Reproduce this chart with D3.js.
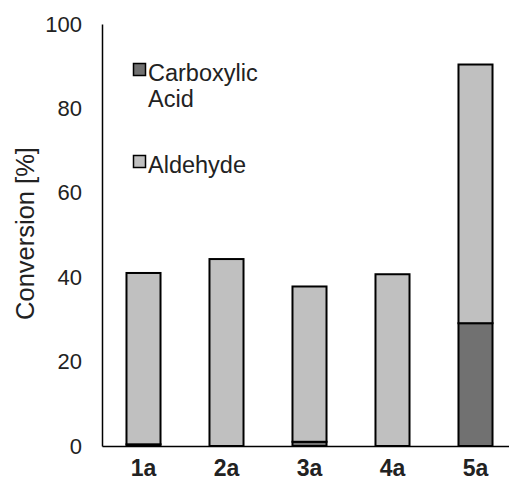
<!DOCTYPE html>
<html>
<head>
<meta charset="utf-8">
<script src="https://cdn.jsdelivr.net/npm/d3@7"></script>
<style>
  body { margin: 0; background: #fff; }
  svg { font-family: "Liberation Sans", Arial, sans-serif; }
</style>
</head>
<body>
<svg id="chart" width="509" height="483"></svg>
<script>
"use strict";

// data
const categories = ["1a", "2a", "3a", "4a", "5a"];
const acid = [0.4, 0, 1.0, 0, 29.1];
const aldehyde = [40.6, 44.3, 36.8, 40.7, 61.3];
const yTicks = [0, 20, 40, 60, 80, 100];
const COLORS = { acid: "#717171", aldehyde: "#c0c0c0" };

const svg = d3.select("#chart");
const plotLeft = 102;
const plotTop = 24;
const plotBottom = 446;

const x = d3.scaleBand().domain(categories).range([plotLeft, 517]).paddingInner(0.59).paddingOuter(0.295);
const y = d3.scaleLinear().domain([0, 100]).range([plotBottom, plotTop]);

const rows = categories.map((c, i) => ({ cat: c, acid: acid[i], aldehyde: aldehyde[i] }));
const stacked = d3.stack().keys(["acid", "aldehyde"])(rows);

// bars
svg.append("g").selectAll("g")
    .data(stacked)
    .join("g")
    .attr("fill", (d) => COLORS[d.key])
    .selectAll("rect")
    .data((d) => d)
    .join("rect")
    .attr("x", (d) => x(d.data.cat))
    .attr("y", (d) => y(d[1]))
    .attr("width", x.bandwidth())
    .attr("height", (d) => y(d[0]) - y(d[1]))
    .attr("stroke", "#000")
    .attr("stroke-width", 2);

// y axis
const yAxis = svg.append("g")
    .attr("transform", `translate(${plotLeft},0)`)
    .call(d3.axisLeft(y).tickValues(yTicks).tickSize(0).tickPadding(20));
yAxis.select(".domain").attr("stroke-width", 1.5);
yAxis.selectAll("text").attr("font-size", 22).attr("fill", "#222")
    .attr("font-family", "Liberation Sans, Arial, sans-serif");

// x axis
const xAxis = svg.append("g")
    .attr("transform", `translate(0,${plotBottom})`)
    .call(d3.axisBottom(x).tickSize(0).tickPadding(14));
xAxis.select(".domain").attr("stroke-width", 1.5);
xAxis.selectAll("text").attr("font-size", 23).attr("font-weight", "bold").attr("fill", "#222")
    .attr("font-family", "Liberation Sans, Arial, sans-serif");

// axis title
svg.append("text")
    .attr("transform", `translate(34,${(145 + 322) / 2}) rotate(-90)`)
    .attr("text-anchor", "middle")
    .attr("font-size", 25.5)
    .attr("fill", "#222")
    .text("Conversion [%]");

// legend
const legend = [
    { key: "acid", lines: ["Carboxylic", "Acid"], y: 63 },
    { key: "aldehyde", lines: ["Aldehyde"], y: 155 },
];
legend.forEach((l) => {
    svg.append("rect")
        .attr("x", 133.5).attr("y", l.y + 0.5)
        .attr("width", 12).attr("height", 12)
        .attr("fill", COLORS[l.key])
        .attr("stroke", "#000").attr("stroke-width", 1.5);
    const t = svg.append("text")
        .attr("x", 148).attr("y", l.y + 18)
        .attr("font-size", 23.5).attr("fill", "#222");
    l.lines.forEach((s, i) => {
        t.append("tspan").attr("x", 148).attr("dy", i === 0 ? 0 : 26).text(s);
    });
});
</script>
</body>
</html>
